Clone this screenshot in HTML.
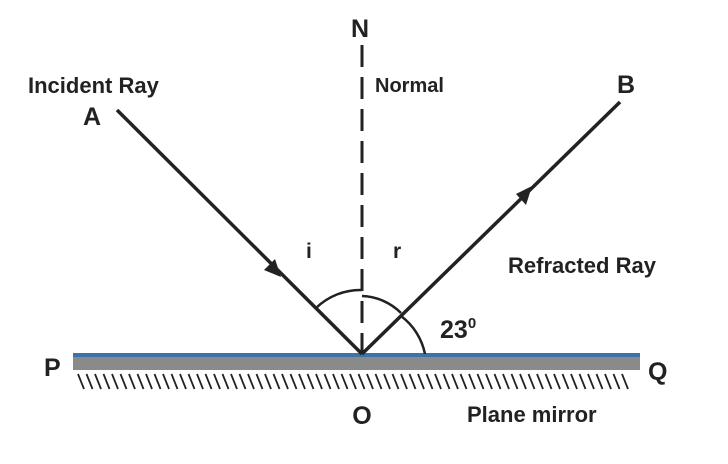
<!DOCTYPE html>
<html><head><style>body{margin:0;background:#fff}svg{display:block}text{font-family:"Liberation Sans",sans-serif;font-weight:bold;fill:#222}</style></head><body>
<svg width="728" height="464" viewBox="0 0 728 464">
<rect x="73" y="357" width="567" height="13" fill="#8a8a8a"/>
<rect x="73" y="353" width="567" height="4" fill="#3a74a8"/>
<path d="M78,374 l6,15 m2.5,-15 l6,15 m2.5,-15 l6,15 m2.5,-15 l6,15 m2.5,-15 l6,15 m2.5,-15 l6,15 m2.5,-15 l6,15 m2.5,-15 l6,15 m2.5,-15 l6,15 m2.5,-15 l6,15 m2.5,-15 l6,15 m2.5,-15 l6,15 m2.5,-15 l6,15 m2.5,-15 l6,15 m2.5,-15 l6,15 m2.5,-15 l6,15 m2.5,-15 l6,15 m2.5,-15 l6,15 m2.5,-15 l6,15 m2.5,-15 l6,15 m2.5,-15 l6,15 m2.5,-15 l6,15 m2.5,-15 l6,15 m2.5,-15 l6,15 m2.5,-15 l6,15 m2.5,-15 l6,15 m2.5,-15 l6,15 m2.5,-15 l6,15 m2.5,-15 l6,15 m2.5,-15 l6,15 m2.5,-15 l6,15 m2.5,-15 l6,15 m2.5,-15 l6,15 m2.5,-15 l6,15 m2.5,-15 l6,15 m2.5,-15 l6,15 m2.5,-15 l6,15 m2.5,-15 l6,15 m2.5,-15 l6,15 m2.5,-15 l6,15 m2.5,-15 l6,15 m2.5,-15 l6,15 m2.5,-15 l6,15 m2.5,-15 l6,15 m2.5,-15 l6,15 m2.5,-15 l6,15 m2.5,-15 l6,15 m2.5,-15 l6,15 m2.5,-15 l6,15 m2.5,-15 l6,15 m2.5,-15 l6,15 m2.5,-15 l6,15 m2.5,-15 l6,15 m2.5,-15 l6,15 m2.5,-15 l6,15 m2.5,-15 l6,15 m2.5,-15 l6,15 m2.5,-15 l6,15 m2.5,-15 l6,15 m2.5,-15 l6,15 m2.5,-15 l6,15 m2.5,-15 l6,15 m2.5,-15 l6,15 m2.5,-15 l6,15 m2.5,-15 l6,15" fill="none" stroke="#222" stroke-width="1.8"/>
<line x1="362" y1="45" x2="362" y2="354" stroke="#222" stroke-width="3" stroke-dasharray="22,10"/>
<line x1="117" y1="110" x2="362" y2="354" stroke="#222" stroke-width="3.5"/>
<line x1="362" y1="354" x2="620" y2="102" stroke="#222" stroke-width="3.5"/>
<polygon points="281,277 264,270 275,259" fill="#222"/>
<polygon points="532,186 516,194 526,205" fill="#222"/>
<path d="M316,308 A64,64 0 0 1 362,290" fill="none" stroke="#222" stroke-width="2.5"/>
<path d="M362,296 A58,58 0 0 1 401,313" fill="none" stroke="#222" stroke-width="2.5"/>
<path d="M401,316 A63,63 0 0 1 425,354" fill="none" stroke="#222" stroke-width="2.5"/>
<text x="360" y="37" font-size="25" text-anchor="middle">N</text>
<text x="28" y="93" font-size="22">Incident Ray</text>
<text x="83" y="125" font-size="25">A</text>
<text x="375" y="92" font-size="20">Normal</text>
<text x="617" y="93" font-size="25">B</text>
<text x="306" y="258" font-size="21">i</text>
<text x="393" y="258" font-size="21">r</text>
<text x="508" y="273" font-size="22">Refracted Ray</text>
<text x="440" y="338" font-size="25">23<tspan font-size="15" dy="-10">0</tspan></text>
<text x="44" y="376" font-size="25">P</text>
<text x="648" y="380" font-size="25">Q</text>
<text x="362" y="424" font-size="25" text-anchor="middle">O</text>
<text x="467" y="422" font-size="22">Plane mirror</text>
</svg>
</body></html>
